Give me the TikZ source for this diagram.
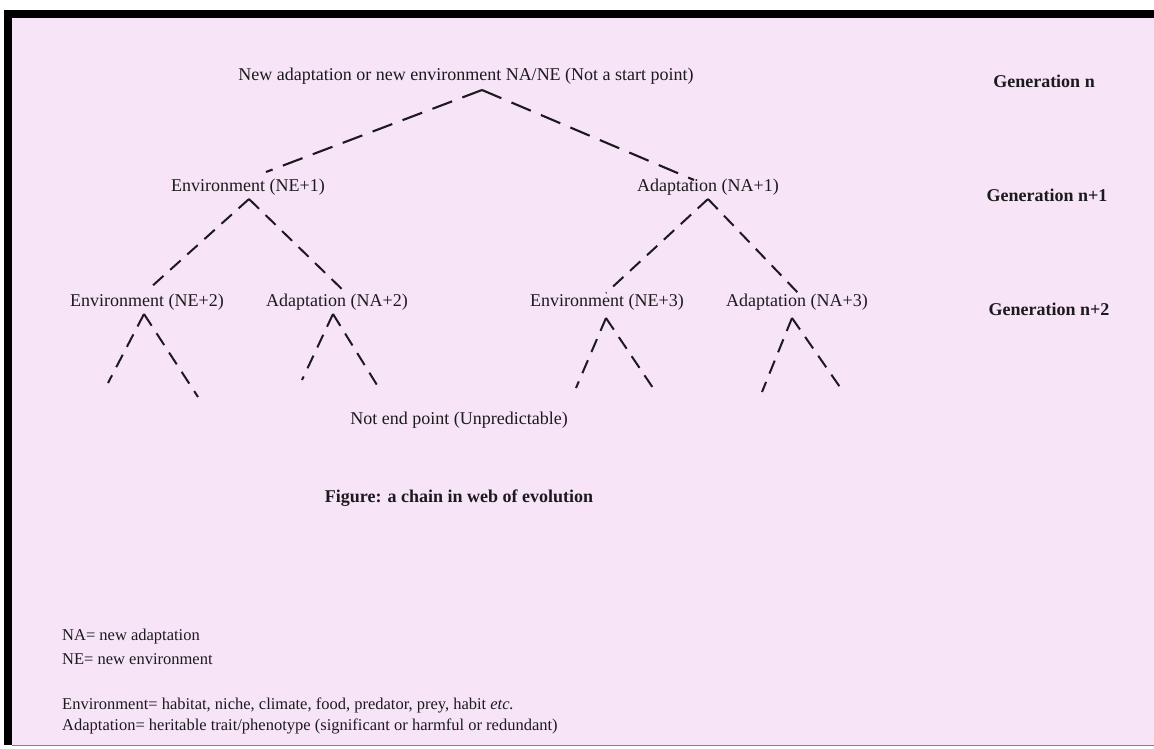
\documentclass[tikz,border=0pt]{standalone}
\usepackage{fontspec}
\setmainfont{Liberation Serif}
\definecolor{paper}{RGB}{247,228,246}
\definecolor{ink}{RGB}{28,26,30}
\begin{document}
\begin{tikzpicture}[x=1pt,y=-1pt,
  lbl/.style={inner sep=0pt, text=ink, font=\fontsize{18}{21}\selectfont},
  gen/.style={inner sep=0pt, text=ink, font=\fontsize{18}{21}\selectfont\bfseries},
  leg/.style={inner sep=0pt, anchor=west, text=ink, font=\fontsize{16.5}{20}\selectfont},
  bigdash/.style={line width=2.1pt, draw=ink, dash pattern=on 21pt off 11pt},
  smalldash/.style={line width=2pt, draw=ink, dash pattern=on 14pt off 9pt},
]
\useasboundingbox (0,0) rectangle (1154,749);
\fill[white] (0,0) rectangle (1154,749);
\fill[paper] (12,18) rectangle (1154,745);
\fill[black] (4,10) rectangle (1154,18);
\fill[black] (4,10) rectangle (12,745);
\draw[gray, line width=1pt] (12,745.5) -- (1154,745.5);

% texts
\node[lbl] (top) at (466,76) {New adaptation or new environment NA/NE (Not a start point)};
\node[gen] (g0) at (1044,81) {Generation n};
\node[lbl] (ne1) at (248,187) {Environment (NE+1)};
\node[lbl] (na1) at (708,187) {Adaptation (NA+1)};
\node[gen] (g1) at (1047,195) {Generation n+1};
\node[lbl] (ne2) at (147,302) {Environment (NE+2)};
\node[lbl] (na2) at (337,302) {Adaptation (NA+2)};
\node[lbl] (ne3) at (607,302) {Environment (NE+3)};
\node[lbl] (na3) at (797,302) {Adaptation (NA+3)};
\node[gen] (g2) at (1049,309) {Generation n+2};
\node[lbl] (nep) at (459,420) {Not end point (Unpredictable)};
\node[gen] (fig) at (459,498) {Figure: a chain in web of evolution};
\node[leg] (l1) at (62,637) {NA= new adaptation};
\node[leg] (l2) at (62,659) {NE= new environment};
\node[leg] (l3) at (62,705) {Environment= habitat, niche, climate, food, predator, prey, habit \textit{etc.}};
\node[leg] (l4) at (62,726) {Adaptation= heritable trait/phenotype (significant or harmful or redundant)};

% branch points and ends
\coordinate (a0) at (482,90);
\coordinate (a0l) at (266,172);
\coordinate (a0r) at (694,180);
\coordinate (a1) at (249,199);
\coordinate (a1l) at (150,288);
\coordinate (a1r) at (348,295);
\coordinate (b1) at (708,199);
\coordinate (b1l) at (606,293);
\coordinate (b1r) at (800,295);
\coordinate (a2) at (144,314);
\coordinate (a2l) at (108,383);
\coordinate (a2r) at (198,397);
\coordinate (b2) at (333,314);
\coordinate (b2l) at (302,380);
\coordinate (b2r) at (377,385);
\coordinate (a3) at (606,318);
\coordinate (a3l) at (576,388);
\coordinate (a3r) at (653,388);
\coordinate (b3) at (792,318);
\coordinate (b3l) at (762,392);
\coordinate (b3r) at (842,390);

\draw[bigdash] (a0) -- (a0l);
\draw[bigdash] (a0) -- (a0r);
\foreach \p in {a1,b1,a2,b2,a3,b3}{
  \draw[smalldash] (\p) -- (\p l);
  \draw[smalldash] (\p) -- (\p r);
}
\end{tikzpicture}
\end{document}
